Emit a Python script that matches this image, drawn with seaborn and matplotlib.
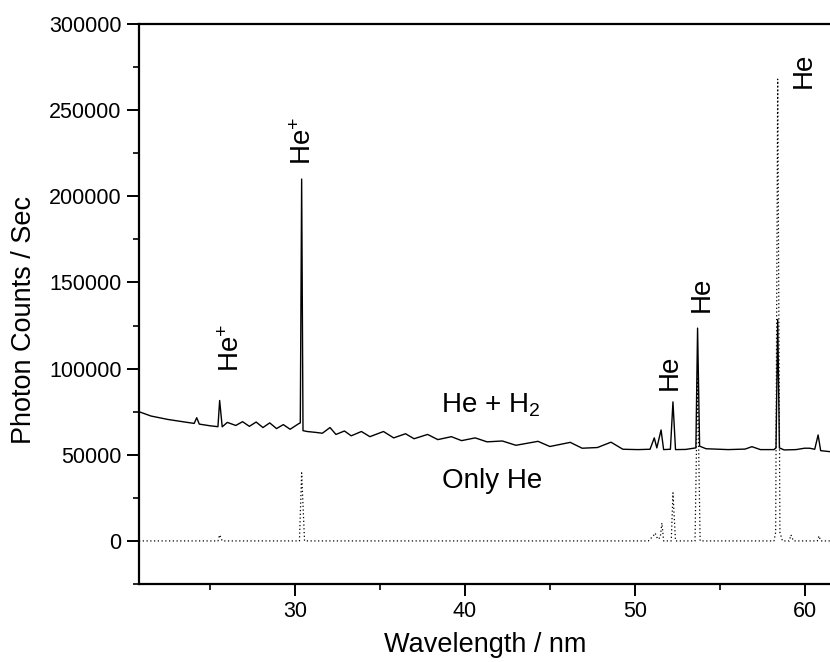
import numpy as np
import pandas as pd
import matplotlib
matplotlib.use("Agg")
import matplotlib.pyplot as plt
from matplotlib.ticker import MultipleLocator
import seaborn as sns

# He + H2 spectrum (solid)
mix_wl = [20.8, 21.5, 22.5, 23.5, 24.05, 24.2, 24.35, 25.0, 25.45, 25.55, 25.7,
          26.0, 26.5, 26.9, 27.3, 27.7, 28.1, 28.5, 28.9, 29.3, 29.7, 30.2, 30.3,
          30.38, 30.46, 30.7, 31.2, 31.6, 32.05, 32.4, 32.9, 33.3, 33.9, 34.4,
          35.2, 35.8, 36.5, 37.0, 37.8, 38.4, 39.2, 39.8, 40.6, 41.3, 42.2, 43.0,
          44.3, 45.0, 46.2, 46.9, 47.8, 48.6, 49.3, 50.2, 50.9, 51.15, 51.3,
          51.55, 51.7, 52.1, 52.25, 52.4, 53.0, 53.6, 53.7, 53.82, 54.2, 55.5,
          56.5, 56.9, 57.4, 58.2, 58.32, 58.42, 58.52, 58.8, 59.5, 60.0, 60.3,
          60.6, 60.8, 60.95, 61.5]
mix_counts = [75000, 72500, 70500, 69000, 68200, 71500, 67800, 66800, 66300, 81500, 66200,
              68800, 67000, 69200, 66500, 69000, 65800, 68500, 65200, 67500, 64800, 68000, 68500,
              210000, 64000, 63500, 63000, 62500, 65800, 61800, 63800, 61000, 63500, 60500,
              63500, 59800, 62200, 59300, 61800, 58800, 60500, 58200, 59800, 57500, 58000, 55500,
              57800, 54800, 57200, 53800, 54200, 57300, 53200, 53000, 53200, 59800, 54000,
              64400, 53000, 53200, 80700, 53000, 53100, 54000, 123500, 55000, 53500, 53000,
              53300, 54700, 53000, 53000, 54000, 128500, 54000, 52800, 53000, 53800, 53800,
              53200, 61500, 52400, 51800]

# Only He spectrum (dotted)
he_wl = [20.8, 25.45, 25.55, 25.7, 30.25, 30.38, 30.55, 50.8, 51.1, 51.2, 51.35,
         51.5, 51.6, 51.7, 52.15, 52.25, 52.4, 53.55, 53.7, 53.85, 58.2, 58.3,
         58.42, 58.55, 58.7, 59.1, 59.2, 59.35, 60.75, 60.85, 60.95, 61.5]
he_counts = [0, 0, 3500, 0, 0, 39500, 0, 0, 3000, 4600, 1000,
             2000, 10400, 0, 0, 27900, 0, 0, 95000, 0, 0, 5000,
             268000, 5000, 0, 0, 3500, 0, 0, 2900, 0, 0]

# annotations: (text, x, y)
peak_labels = [("He$^{+}$", 26.25, 112000), ("He$^{+}$", 30.5, 232000),
               ("He", 52.05, 98000), ("He", 53.95, 143000), ("He", 59.95, 273000)]
trace_labels = [("He + H$_{2}$", 41.5, 79000), ("Only He", 41.6, 35000)]

sns.set_style("ticks")
plt.rcParams["font.family"] = ["Liberation Sans", "DejaVu Sans"]
plt.rcParams["mathtext.fontset"] = "custom"
plt.rcParams["mathtext.rm"] = "Liberation Sans"
plt.rcParams["mathtext.it"] = "Liberation Sans"
for k in ["text.color", "axes.labelcolor", "xtick.color", "ytick.color", "axes.edgecolor"]:
    plt.rcParams[k] = "black"

fig = plt.figure(figsize=(8.3, 6.62), dpi=100)
ax = fig.add_axes([139 / 830, 78 / 662, 1 - 139 / 830, (584 - 24) / 662])

df_mix = pd.DataFrame({"wl": mix_wl, "counts": mix_counts})
df_he = pd.DataFrame({"wl": he_wl, "counts": he_counts})

sns.lineplot(data=df_he, x="wl", y="counts", ax=ax, color="black", lw=0.9,
             linestyle=(0, (1, 2)), sort=False)
sns.lineplot(data=df_mix, x="wl", y="counts", ax=ax, color="black", lw=1.0, sort=False)

ax.set_xlim(20.8, 61.5)
ax.set_ylim(-25000, 300000)
ax.xaxis.set_major_locator(MultipleLocator(10))
ax.xaxis.set_minor_locator(MultipleLocator(5))
ax.yaxis.set_major_locator(MultipleLocator(50000))
ax.yaxis.set_minor_locator(MultipleLocator(25000))
ax.tick_params(which="major", direction="out", length=8.5, width=1.4, labelsize=15.5, pad=4)
ax.tick_params(which="minor", direction="out", length=4.3, width=1.2)

for s in ["left", "bottom", "top"]:
    ax.spines[s].set_linewidth(1.6)
ax.spines["right"].set_visible(False)

ax.set_xlabel("Wavelength / nm", fontsize=19.5)
ax.set_ylabel("Photon Counts / Sec", fontsize=19.5)
ax.xaxis.set_label_coords((485 - 139) / 691, -(632 - 584) / 560, transform=ax.transAxes)
ax.xaxis.label.set_va("top")
ax.yaxis.set_label_coords(-(139 - 37) / 691, (584 - 320) / 560, transform=ax.transAxes)

for txt, x, y in peak_labels:
    ax.text(x, y, txt, rotation=90, fontsize=20, ha="center", va="center")
for txt, x, y in trace_labels:
    ax.text(x, y, txt, fontsize=20, ha="center", va="center")

fig.savefig("out.png", dpi=100)
